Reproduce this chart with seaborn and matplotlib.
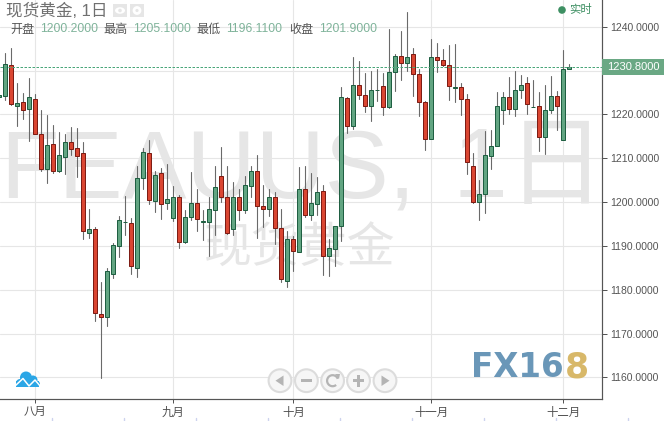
import numpy as np, pandas as pd
import matplotlib
matplotlib.use("Agg")
import matplotlib.pyplot as plt
import seaborn as sns
from matplotlib.patches import Circle, Rectangle, Polygon, Ellipse, Arc

opens = [1224.0,
 1224.3,1231.2,1222.0,1222.8,1221.2,1223.5,1215.5,1207.5,1213.2,1207.0,
 1210.4,1213.7,1212.3,1211.1,1193.0,1193.8,1174.4,1173.8,1183.5,1190.0,
 1195.4,1195.2,1185.0,1205.6,1211.1,1200.3,1206.6,1199.9,1196.4,1201.1,
 1191.0,1196.5,1199.7,1195.5,1195.4,1198.1,1205.9,1201.1,1193.8,1201.1,
 1198.1,1203.6,1207.0,1199.0,1198.4,1201.1,1194.2,1182.1,1191.5,1188.5,
 1203.1,1197.1,1199.5,1202.5,1187.6,1189.2,1194.5,1223.7,1217.4,1226.7,
 1224.5,1222.0,1225.6,1226.4,1221.8,1229.6,1233.3,1231.7,1233.7,1229.2,
 1222.8,1214.3,1233.1,1232.4,1231.2,1226.1,1226.2,1223.5,1208.2,1200.0,
 1201.8,1210.5,1212.7,1221.0,1223.9,1221.3,1225.5,1227.1,1221.6,1221.9,
 1214.8,1221.0,1224.2,1214.1,1230.5]
closes = [1224.5,
 1231.5,1222.5,1222.6,1221.1,1223.9,1215.6,1207.5,1213.0,1207.0,1210.7,
 1213.7,1212.2,1210.6,1193.3,1193.8,1174.6,1173.8,1184.2,1190.1,1195.8,
 1195.5,1185.3,1205.4,1211.4,1200.5,1206.3,1199.6,1200.6,1201.1,1191.0,
 1196.5,1199.7,1196.1,1195.6,1198.4,1203.4,1201.1,1193.0,1201.1,1198.1,
 1203.8,1207.0,1199.0,1198.5,1201.1,1194.0,1182.4,1191.5,1188.8,1203.1,
 1197.0,1199.7,1202.2,1187.6,1189.5,1194.5,1223.9,1217.4,1226.7,1224.5,
 1222.0,1225.7,1225.7,1221.8,1229.6,1233.3,1231.7,1233.1,1229.2,1222.8,
 1214.3,1233.1,1232.4,1231.2,1226.4,1226.2,1223.5,1209.1,1200.0,1201.8,
 1210.7,1212.7,1221.9,1223.9,1221.3,1225.5,1226.7,1222.5,1221.7,1214.8,
 1221.0,1224.2,1221.9,1230.3,1230.8]
highs = [1224.5,
 1234.0,1235.1,1227.1,1224.8,1228.3,1224.6,1221.0,1219.9,1217.5,1216.0,
 1215.5,1217.1,1217.0,1213.7,1198.4,1194.4,1181.7,1184.9,1190.6,1196.8,
 1201.4,1196.3,1208.2,1212.3,1214.2,1207.1,1207.8,1208.7,1203.7,1201.6,
 1198.2,1206.9,1203.1,1198.2,1201.2,1208.2,1212.5,1208.2,1204.6,1203.1,
 1206.0,1208.2,1210.7,1203.9,1203.1,1202.3,1198.4,1193.4,1192.3,1208.0,
 1208.2,1206.6,1205.7,1203.9,1191.6,1194.5,1226.2,1224.1,1233.1,1232.2,
 1229.4,1229.9,1230.5,1229.4,1239.5,1233.8,1239.1,1243.3,1235.1,1230.3,
 1223.1,1237.2,1236.3,1234.9,1235.9,1236.1,1227.1,1224.7,1211.2,1205.0,
 1216.3,1216.5,1225.1,1225.1,1228.6,1229.9,1229.0,1228.6,1227.9,1225.1,
 1226.7,1228.8,1225.4,1234.7,1231.5]
lows = [1224.0,
 1223.2,1222.1,1217.4,1219.0,1214.0,1215.5,1207.0,1204.4,1206.7,1206.9,
 1206.4,1210.8,1205.8,1191.6,1191.9,1172.9,1159.9,1171.8,1182.7,1187.5,
 1192.5,1183.6,1182.9,1203.0,1199.6,1197.7,1196.1,1198.5,1195.7,1189.6,
 1190.7,1195.8,1193.5,1191.3,1187.7,1192.6,1200.0,1192.7,1192.5,1195.8,
 1197.6,1201.2,1191.9,1194.4,1196.9,1190.4,1181.8,1180.7,1184.2,1188.5,
 1196.5,1195.9,1197.0,1183.4,1183.2,1185.3,1191.2,1215.8,1216.8,1223.6,
 1220.6,1218.6,1223.1,1219.9,1221.5,1225.4,1227.9,1230.0,1224.2,1219.7,
 1211.9,1214.3,1229.8,1231.1,1223.3,1222.9,1219.9,1206.4,1199.9,1195.9,
 1197.6,1207.6,1212.7,1217.8,1220.0,1219.6,1223.7,1220.1,1221.6,1211.7,
 1211.0,1220.4,1216.5,1214.1,1230.5]
days = list(range(-1, 95))
month_days = [5, 28, 48, 71, 93]
month_labels = ["八月", "九月", "十月", "十一月", "十二月"]
price_ticks = [1160, 1170, 1180, 1190, 1200, 1210, 1220, 1230, 1240]
last_price = 1230.8
stats = [("开盘", "1200.2000"), ("最高", "1205.1000"), ("最低", "1196.1100"), ("收盘", "1201.9000")]

W, H = 666, 421
sns.set_theme(style="white")
plt.rcParams["font.family"] = ["Liberation Sans", "Noto Sans CJK SC", "DejaVu Sans"]
PX = 0.72  # one pixel in points at dpi 100

fig = plt.figure(figsize=(W/100, H/100), dpi=100, facecolor="white")

def pixel_axes(z):
    a = fig.add_axes([0, 0, 1, 1], zorder=z)
    a.set_xlim(0, W); a.set_ylim(H, 0); a.axis("off"); a.patch.set_alpha(0)
    return a

bg = pixel_axes(0)
bg.text(0, 197, "FEAUUS,", fontsize=69, color="#e6e6e6", va="baseline", ha="left")
bg.text(453, 197, "1日", fontsize=71, color="#e6e6e6", va="baseline", ha="left")
bg.text(300, 250, "现货黄金", fontsize=34.5, color="#e6e6e6", va="center", ha="center")

ax = fig.add_axes([0, 1-399.3/H, 602.3/W, 399.3/H], zorder=1)
ax.patch.set_alpha(0)
ax.set_xlim(-0.883, 99.5)
ax.set_ylim(1154.98, 1246.14)

# the 1230 label sits behind the last-price tag in the reference
ax.set_yticks(price_ticks, ["" if p == 1230 else f"{p:.4f}" for p in price_ticks])
ax.set_xticks(month_days, month_labels)
ax.yaxis.tick_right()
ax.grid(True, color="#e6e6e6", lw=1.1*PX)
ax.set_axisbelow(True)
for s in ["top", "left"]:
    ax.spines[s].set_visible(False)
for s in ["right", "bottom"]:
    ax.spines[s].set_color("#555555"); ax.spines[s].set_linewidth(1.2*PX)
ax.tick_params(axis="y", which="major", left=False, right=True, length=3.5, width=PX, color="#555555",
               labelsize=7.5, labelcolor="#555555", pad=2)
ax.tick_params(axis="x", which="major", bottom=True, length=3, width=PX, color="#555555",
               labelsize=8.2, labelcolor="#4d4d4d", pad=2.5)

df = pd.DataFrame({"day": days, "open": opens, "close": closes, "high": highs, "low": lows})
wicks = pd.concat([df[["day", "high"]].rename(columns={"high": "price"}),
                   df[["day", "low"]].rename(columns={"low": "price"})])
sns.lineplot(data=wicks, x="day", y="price", units="day", estimator=None, sort=False,
             color="#6a6a6a", lw=1.1*PX, ax=ax, legend=False, zorder=2)
ax.set_xlabel(""); ax.set_ylabel("")

up = df["close"] >= df["open"]
ax.bar(df["day"], (df["close"]-df["open"]).abs(), bottom=df[["open", "close"]].min(axis=1), width=0.66,
       color=np.where(up, "#62a582", "#da4632"), edgecolor=np.where(up, "#1f5f42", "#7e1c14"),
       linewidth=1.0*PX, zorder=3)
ax.axhline(last_price, color="#4aa67a", lw=1.0*PX, ls=(0, (2.5, 1.5)), zorder=4)

fg = pixel_axes(2)
fg.add_patch(Rectangle((602, 59.3), 62, 15.4, fc="#6aa884", ec="none"))
fg.text(633, 67.3, f"{last_price:.4f}", color="white", fontsize=8, ha="center", va="center")

fg.text(6, 10.5, "现货黄金, 1日", fontsize=12, color="#707070", va="center", ha="left")
for x0 in (113, 130):
    fg.add_patch(Rectangle((x0, 4), 14, 13, fc="#e6e6e6", ec="none"))
fg.add_patch(Ellipse((120, 10.5), 10, 6.5, fc="white", ec="none"))
fg.add_patch(Circle((120, 10.5), 1.8, fc="#e6e6e6", ec="none"))
fg.add_patch(Circle((137, 10.5), 4.4, fc="white", ec="none"))
fg.add_patch(Circle((137, 10.5), 1.6, fc="#e6e6e6", ec="none"))

for (lab, val), x0 in zip(stats, (10, 103, 196, 289)):
    fg.text(x0, 29.5, lab, fontsize=8.7, color="#555555", va="center", ha="left")
    fg.text(x0+30, 29.5, val, fontsize=8.7, color="#7fb39a", va="center", ha="left")

fg.add_patch(Circle((562, 10), 3.8, fc="#3d8f62", ec="none"))
fg.text(569, 10, "实时", fontsize=8.2, color="#3d8f62", va="center", ha="left")

# cloud logo
for cx, cy, r in [(20, 383, 4), (26, 377.5, 6), (33, 380, 4.5), (37, 384, 3)]:
    fg.add_patch(Circle((cx, cy), r, fc="#2ba6e6", ec="none"))
fg.add_patch(Rectangle((16, 381), 23, 6, fc="#2ba6e6", ec="none"))
fg.plot([15, 23, 29, 35, 41], [386, 378.5, 386, 380, 387], color="white", lw=1.1)

# navigation buttons
for cx in (280, 306.4, 332.6, 358.5, 385):
    fg.add_patch(Circle((cx, 380.7), 11.4, fc="#f6f6f6", ec="#dcdcdc", lw=1.5))
gc = "#b4b4b4"
fg.add_patch(Polygon([[283.5, 375.5], [283.5, 386], [275.5, 380.7]], fc=gc, ec="none"))
fg.add_patch(Rectangle((300.5, 379.3), 11.5, 2.8, fc=gc, ec="none"))
fg.add_patch(Arc((332.6, 380.7), 11, 11, theta1=50, theta2=340, color=gc, lw=1.6))
fg.add_patch(Polygon([[335, 374], [340, 374], [339, 379]], fc=gc, ec="none"))
fg.add_patch(Rectangle((352.7, 379.3), 11.5, 2.8, fc=gc, ec="none"))
fg.add_patch(Rectangle((357, 375), 2.8, 11.5, fc=gc, ec="none"))
fg.add_patch(Polygon([[381.5, 375.5], [381.5, 386], [389.5, 380.7]], fc=gc, ec="none"))

# brand mark
fg.text(471, 377, "FX16", fontsize=23.5, fontweight="bold", family=["DejaVu Sans"], color="#6a97b8",
        va="baseline", ha="left")
fg.text(565, 377, "8", fontsize=25, fontweight="bold", family=["DejaVu Sans"], color="#d8b869",
        va="baseline", ha="left")

# page-edge marks
for x0 in range(52, 640, 72):
    fg.plot([x0, x0], [418, 421], color="#cdd3ee", lw=1)

fig.savefig("out.png", dpi=100)
